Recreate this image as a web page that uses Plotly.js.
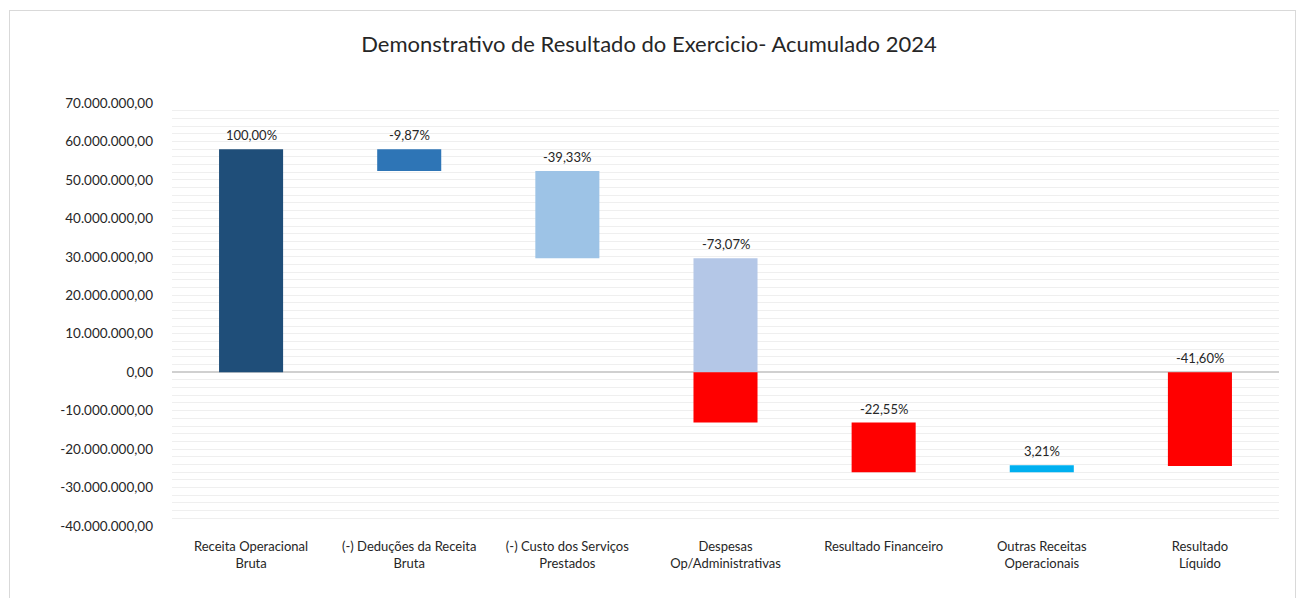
<!DOCTYPE html>
<html>
<head>
<meta charset="utf-8">
<script src="https://cdn.plot.ly/plotly-3.0.1.min.js"></script>
<style>
  html, body { margin: 0; padding: 0; background: #fff; }
  #frame { position: absolute; left: 9px; top: 10px; width: 1287px; height: 600px;
           border-top: 1px solid #d9d9d9; border-left: 1px solid #d9d9d9; border-right: 1px solid #d9d9d9; box-sizing: border-box; }
  #chart { position: absolute; left: 0; top: 0; width: 1298px; height: 598px; }
</style>
</head>
<body>
<div id="frame"></div>
<div id="chart"></div>
<script>
// Data (values in R$)
const categories = [
  "Receita Operacional<br>Bruta",
  "(-) Deduções da Receita<br>Bruta",
  "(-) Custo dos Serviços<br>Prestados",
  "Despesas<br>Op/Administrativas",
  "Resultado Financeiro",
  "Outras Receitas<br>Operacionais",
  "Resultado<br>Líquido"
];
const barStart = [0, 58000000, 52300000, 29600000, -13100000, -26000000, 0];
const barEnd   = [58000000, 52300000, 29600000, -13100000, -26000000, -24200000, -24400000];
const pctLabels = ["100,00%", "-9,87%", "-39,33%", "-73,07%", "-22,55%", "3,21%", "-41,60%"];
const yTickVals = [70e6, 60e6, 50e6, 40e6, 30e6, 20e6, 10e6, 0, -10e6, -20e6, -30e6, -40e6];
const yTickText = ["70.000.000,00","60.000.000,00","50.000.000,00","40.000.000,00","30.000.000,00",
  "20.000.000,00","10.000.000,00","0,00","-10.000.000,00","-20.000.000,00","-30.000.000,00","-40.000.000,00"];

const colors = ["#1F4E79", "#2E75B6", "#9DC3E6", null, "#FF0000", "#00B0F0", "#FF0000"];
const posColor = "#B4C7E7";  // Despesas part above zero
const negColor = "#FF0000";  // Despesas part below zero

const xs = categories.map((c, i) => i);
const traces = [];
// split bars crossing zero into two pieces
const segBase = [], segLen = [], segColor = [], segX = [];
for (let i = 0; i < categories.length; i++) {
  const lo = Math.min(barStart[i], barEnd[i]);
  const hi = Math.max(barStart[i], barEnd[i]);
  if (lo < 0 && hi > 0) {
    segX.push(i); segBase.push(0); segLen.push(hi); segColor.push(posColor);
    segX.push(i); segBase.push(lo); segLen.push(-lo); segColor.push(negColor);
  } else {
    segX.push(i); segBase.push(lo); segLen.push(hi - lo); segColor.push(colors[i]);
  }
}
traces.push({
  type: 'bar', x: segX, y: segLen, base: segBase,
  marker: { color: segColor, line: { width: 0 } },
  width: 0.405, hoverinfo: 'skip', showlegend: false
});

const annotations = categories.map((c, i) => ({
  x: i, y: Math.max(barStart[i], barEnd[i]), xref: 'x', yref: 'y',
  text: pctLabels[i], showarrow: false, yanchor: 'bottom', yshift: 4,
  font: { family: 'Lato, "Open Sans", sans-serif', size: 13, color: '#262626' }
}));

const layout = {
  width: 1298, height: 598,
  margin: { l: 172, r: 19, t: 103, b: 72 },
  paper_bgcolor: 'rgba(0,0,0,0)', plot_bgcolor: 'rgba(0,0,0,0)',
  title: { text: 'Demonstrativo de Resultado do Exercicio- Acumulado 2024',
           font: { family: 'Lato, "Open Sans", sans-serif', size: 22, color: '#262626' },
           x: 0.5, xanchor: 'center', y: 0.926, yanchor: 'middle' },
  xaxis: {
    tickvals: xs, ticktext: categories, range: [-0.5, 6.5],
    showgrid: false, zeroline: false, showline: false, ticks: '',
    ticklabelstandoff: 11,
    tickfont: { family: 'Lato, "Open Sans", sans-serif', size: 13, color: '#262626' },
    side: 'bottom', automargin: false
  },
  yaxis: {
    range: [-40e6, 70e6], tickvals: yTickVals, ticktext: yTickText,
    showgrid: true, gridcolor: '#EFEFEF', gridwidth: 1,
    minor: { dtick: 2e6, tick0: 0, showgrid: true, gridcolor: '#EFEFEF', gridwidth: 1 },
    zeroline: true, zerolinecolor: '#D0D0D0', zerolinewidth: 1.5,
    showline: false, ticks: '', ticklabelstandoff: 18,
    tickfont: { family: 'Lato, "Open Sans", sans-serif', size: 13.5, color: '#262626' },
    automargin: false
  },
  annotations: annotations,
  bargap: 0.6
};

Plotly.newPlot('chart', traces, layout, { staticPlot: true, displayModeBar: false });
</script>
</body>
</html>
